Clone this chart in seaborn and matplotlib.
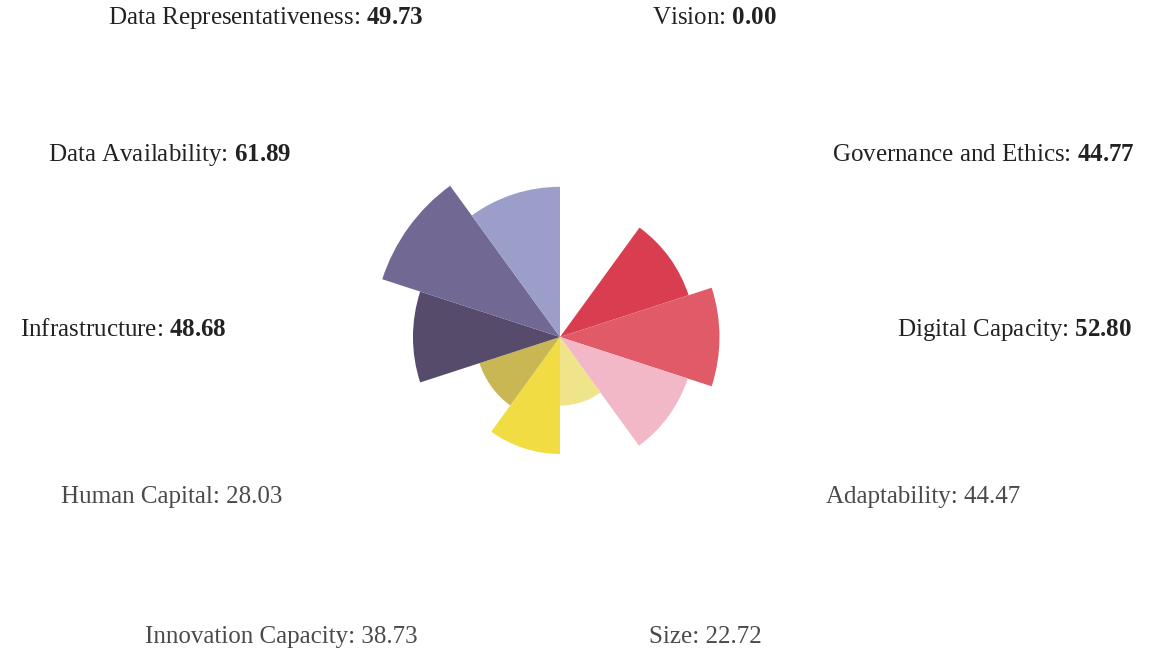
import numpy as np
import matplotlib
matplotlib.use("Agg")
import matplotlib.pyplot as plt
import seaborn as sns

# Pillar scores, clockwise from the top
categories = [
    "Vision", "Governance and Ethics", "Digital Capacity", "Adaptability", "Size",
    "Innovation Capacity", "Human Capital", "Infrastructure", "Data Availability",
    "Data Representativeness",
]
scores = [0.00, 44.77, 52.80, 44.47, 22.72, 38.73, 28.03, 48.68, 61.89, 49.73]
colors = [
    "#8fa0d0", "#d83e4f", "#e05a67", "#f2b8c8", "#f0e48a",
    "#f2dc44", "#c8b752", "#564b6b", "#716894", "#9a9ec9",
]
# values shown in bold in the label
bold_value = [True, True, True, False, False, False, False, True, True, True]

sns.set_theme(style="white")
plt.rcParams["font.family"] = ["Liberation Serif", "DejaVu Serif"]
plt.rcParams["mathtext.fontset"] = "custom"
plt.rcParams["mathtext.rm"] = "Liberation Serif"
plt.rcParams["mathtext.bf"] = "Liberation Serif:bold"

W, H = 1150, 656
fig = plt.figure(figsize=(W / 100, H / 100), dpi=100)
fig.patch.set_facecolor("white")

# polar axes centred at (560, 337) px, radius 302 px for r = 100
cx, cy, R = 560, 337, 302
ax = fig.add_axes([(cx - R) / W, (H - cy - R) / H, 2 * R / W, 2 * R / H],
                  projection="polar")
ax.set_theta_zero_location("N")
ax.set_theta_direction(-1)

n = len(categories)
width = 2 * np.pi / n
theta = np.arange(n) * width
ax.bar(theta, scores, width=width, align="edge", color=colors,
       edgecolor="none", linewidth=0)
ax.set_ylim(0, 100)
ax.set_axis_off()

# label anchors (pixel centres of each label)
label_pos = [
    (714, 18), (983, 155), (1015, 330), (923, 497), (705, 637),
    (281, 637), (172, 497), (123, 330), (170, 155), (266, 18),
]
for name, val, (lx, ly), b in zip(categories, scores, label_pos, bold_value):
    if b:
        s = f"{name}: $\\mathbf{{{val:.2f}}}$"
        col = "#222222"
    else:
        s = f"{name}: {val:.2f}"
        col = "#4a4a4a"
    fig.text(lx / W, 1 - ly / H, s, ha="center", va="center",
             fontsize=18, color=col)

fig.savefig("out.png", dpi=100, facecolor="white")
